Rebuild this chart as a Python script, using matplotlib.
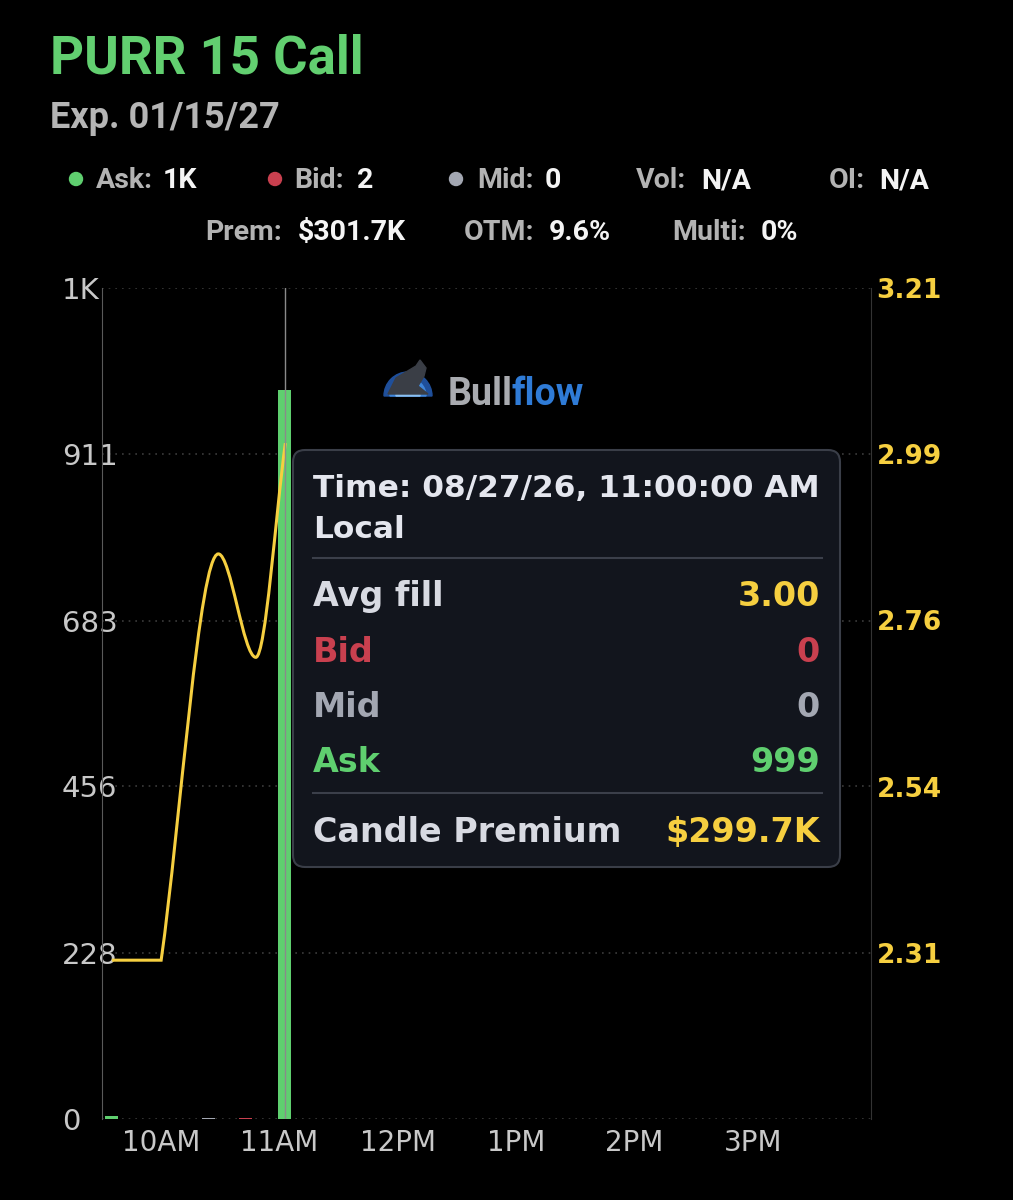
import numpy as np
import matplotlib
matplotlib.use('Agg')
import matplotlib.pyplot as plt
from matplotlib.path import Path
from matplotlib.patches import PathPatch, FancyBboxPatch, Circle, Wedge, Polygon
from matplotlib.transforms import Affine2D
from matplotlib.lines import Line2D

# ---- data ----
contract = "PURR 15 Call"
expiry = "Exp. 01/15/27"
stats_top = [("Ask:", "1K"), ("Bid:", "2"), ("Mid:", "0"), ("Vol:", "N/A"), ("OI:", "N/A")]
stats_bottom = [("Prem:", "$301.7K"), ("OTM:", "9.6%"), ("Multi:", "0%")]

bar_times = ["09:35", "10:24", "10:43", "11:02:30"]
bar_sides = ["ask", "mid", "bid", "ask"]
bar_sizes = [4, 2, 2, 999]

fill_times = ["09:35", "10:00", "10:29", "10:48", "11:03"]
fill_prices = [2.30, 2.30, 2.85, 2.71, 3.00]

size_ticks = [0, 228, 456, 683, 911, 1139]
size_labels = ["0", "228", "456", "683", "911", "1K"]
price_range = [2.085, 3.21]
price_labels = ["2.31", "2.54", "2.76", "2.99", "3.21"]
hour_ticks = [10, 11, 12, 13, 14, 15]
hour_labels = ["10AM", "11AM", "12PM", "1PM", "2PM", "3PM"]
session = ["09:30", "16:00"]
hover_time = "11:03"

tip_title = ["Time: 08/27/26, 11:00:00 AM", "Local"]
tip_rows = [("Avg fill", "3.00"), ("Bid", "0"), ("Mid", "0"), ("Ask", "999")]
tip_total = ("Candle Premium", "$299.7K")

# ---- colours ----
GREEN = '#5fcf6f'
RED = '#c9404f'
GREY = '#a3a7b2'
YELLOW = '#f6cf40'
side_color = {"ask": GREEN, "bid": RED, "mid": GREY}


def hours(t):
    parts = [float(p) for p in t.split(':')]
    while len(parts) < 3:
        parts.append(0.0)
    return parts[0] + parts[1] / 60 + parts[2] / 3600


def smooth_path(x, y):
    # cubic bezier through the points: flat at turning points,
    # a kink where a flat run ends
    x = np.asarray(x, float)
    y = np.asarray(y, float)
    h = np.diff(x)
    d = np.diff(y) / h
    m_in = np.zeros_like(y)
    m_out = np.zeros_like(y)
    m_out[0], m_in[-1] = d[0], d[-1]
    for k in range(1, len(y) - 1):
        if d[k - 1] == 0:
            m_out[k] = d[k]
        elif d[k - 1] * d[k] > 0:
            m_in[k] = m_out[k] = 2 / (1 / d[k - 1] + 1 / d[k])
    verts = [(x[0], y[0])]
    codes = [Path.MOVETO]
    for k in range(len(h)):
        verts += [(x[k] + h[k] / 3, y[k] + m_out[k] * h[k] / 3),
                  (x[k + 1] - h[k] / 3, y[k + 1] - m_in[k + 1] * h[k] / 3),
                  (x[k + 1], y[k + 1])]
        codes += [Path.CURVE4] * 3
    return Path(verts, codes)


plt.rcParams['font.family'] = 'DejaVu Sans'
fig = plt.figure(figsize=(10.13, 12), dpi=100, facecolor='black')
# pixel coordinates measured from the top-left corner
px = Affine2D().scale(1 / 100, -1 / 100).translate(0, 12) + fig.dpi_scale_trans

ax = fig.add_axes([102 / 1013, 1 - 1119 / 1200, 769 / 1013, 831 / 1200])
ax.set_facecolor('black')
ax2 = ax.twinx()

# volume bars
bx = [hours(t) for t in bar_times]
ax.bar(bx, bar_sizes, width=6.6 / 60, color=[side_color[s] for s in bar_sides], zorder=2)
ax.set_xlim(hours(session[0]), hours(session[1]))
ax.set_ylim(size_ticks[0], size_ticks[-1])
ax.set_yticks(size_ticks)
ax.set_yticklabels(size_labels)
ax.set_xticks(hour_ticks)
ax.set_xticklabels(hour_labels)
ax.grid(axis='y', color='#3c3c3c', linestyle=(0, (1, 3)), linewidth=1.2)
ax.tick_params(axis='y', length=0, pad=29, labelsize=21, labelcolor='#c8c8c8')
for lab in ax.get_yticklabels():
    lab.set_ha('left')
ax.tick_params(axis='x', length=0, pad=7, labelsize=20, labelcolor='#c8c8c8')
for s in ['top', 'bottom', 'right']:
    ax.spines[s].set_visible(False)
ax.spines['left'].set_color('#5a5a5a')

# avg fill line
ax2.set_ylim(price_range)
ax2.set_yticks(np.linspace(price_range[0], price_range[1], 6)[1:])
ax2.set_yticklabels(price_labels)
ax2.tick_params(axis='y', length=0, pad=4, labelsize=19, labelcolor=YELLOW)
for lab in ax2.get_yticklabels():
    lab.set_fontweight('bold')
for s in ['top', 'bottom', 'left']:
    ax2.spines[s].set_visible(False)
ax2.spines['right'].set_color('#333333')
ax2.add_patch(PathPatch(smooth_path([hours(t) for t in fill_times], fill_prices),
                        facecolor='none', edgecolor=YELLOW, linewidth=2.2, zorder=3))
ax2.axvline(hours(hover_time), color='#8a8a8a', linewidth=1, zorder=4)

# header
fig.text(50, 73, contract, transform=px, color='#62cf70', fontsize=38,
         fontweight='bold', family='Roboto', va='baseline')
fig.text(50, 128, expiry, transform=px, color='#b5b5b5', fontsize=26,
         fontweight='bold', family='Roboto', va='baseline')
dot_x = [76, 275, 456]
lab_x = [96, 294, 477, 636, 829]
val_x = [163, 357, 545, 701, 879]
for i, (lab, val) in enumerate(stats_top):
    if i < 3:
        fig.add_artist(Circle((dot_x[i], 179), 6.5, transform=px,
                              color=[GREEN, RED, GREY][i]))
    fig.text(lab_x[i], 188, lab, transform=px, color='#b3b3b3', fontsize=20.5,
             fontweight='bold', family='Roboto', va='baseline')
    fig.text(val_x[i], 188, val, transform=px, color='#f4f4f4', fontsize=20.5,
             fontweight='bold', family='Roboto', va='baseline')
lab_x = [205, 464, 672]
val_x = [298, 549, 761]
for i, (lab, val) in enumerate(stats_bottom):
    fig.text(lab_x[i], 240, lab, transform=px, color='#b3b3b3', fontsize=20.5,
             fontweight='bold', family='Roboto', va='baseline')
    fig.text(val_x[i], 240, val, transform=px, color='#f4f4f4', fontsize=20.5,
             fontweight='bold', family='Roboto', va='baseline')

# watermark: waves and a bull shape, then the word mark
for r, c in [(24, '#1f4f9a'), (18, '#3f86da'), (12, '#8cc0f0')]:
    fig.add_artist(Wedge((408, 396), r, 180, 360, transform=px, color=c))
fig.add_artist(Polygon([(388, 394), (396, 378), (406, 372), (416, 366), (420, 360),
                        (426, 368), (424, 376), (418, 386), (428, 394)],
                       closed=True, transform=px, color='#3a3e46'))
fig.text(448, 405, "Bull", transform=px, color='#a9abb0', fontsize=27,
         fontweight='bold', family='Roboto', va='baseline')
fig.text(511, 405, "flow", transform=px, color='#2f7bd6', fontsize=27,
         fontweight='bold', family='Roboto', va='baseline')

# tooltip
fig.add_artist(FancyBboxPatch((293, 450), 547, 417, boxstyle='round,pad=0,rounding_size=12',
                              transform=px, facecolor='#12151d', edgecolor='#3a3e48',
                              linewidth=1.5, zorder=10))
for yy in [558, 793]:
    fig.add_artist(Line2D([313, 822], [yy, yy], transform=px, color='#3b3f4a',
                          linewidth=1.5, zorder=11))
for yy, txt in zip([497, 538], tip_title):
    fig.text(313, yy, txt, transform=px, color='#e4e6ee', fontsize=22.5,
             fontweight='bold', va='baseline', zorder=12)
row_colors = [('#d8dae2', YELLOW), (RED, RED), (GREY, GREY), (GREEN, GREEN)]
for yy, (lab, val), (c1, c2) in zip([606, 662, 717, 772], tip_rows, row_colors):
    fig.text(313, yy, lab, transform=px, color=c1, fontsize=24,
             fontweight='bold', va='baseline', zorder=12)
    fig.text(820, yy, val, transform=px, color=c2, fontsize=24,
             fontweight='bold', va='baseline', ha='right', zorder=12)
fig.text(313, 842, tip_total[0], transform=px, color='#d8dae2', fontsize=24,
         fontweight='bold', va='baseline', zorder=12)
fig.text(820, 842, tip_total[1], transform=px, color=YELLOW, fontsize=24,
         fontweight='bold', va='baseline', ha='right', zorder=12)

fig.savefig('out.png', dpi=100, facecolor='black')
plt.close(fig)
